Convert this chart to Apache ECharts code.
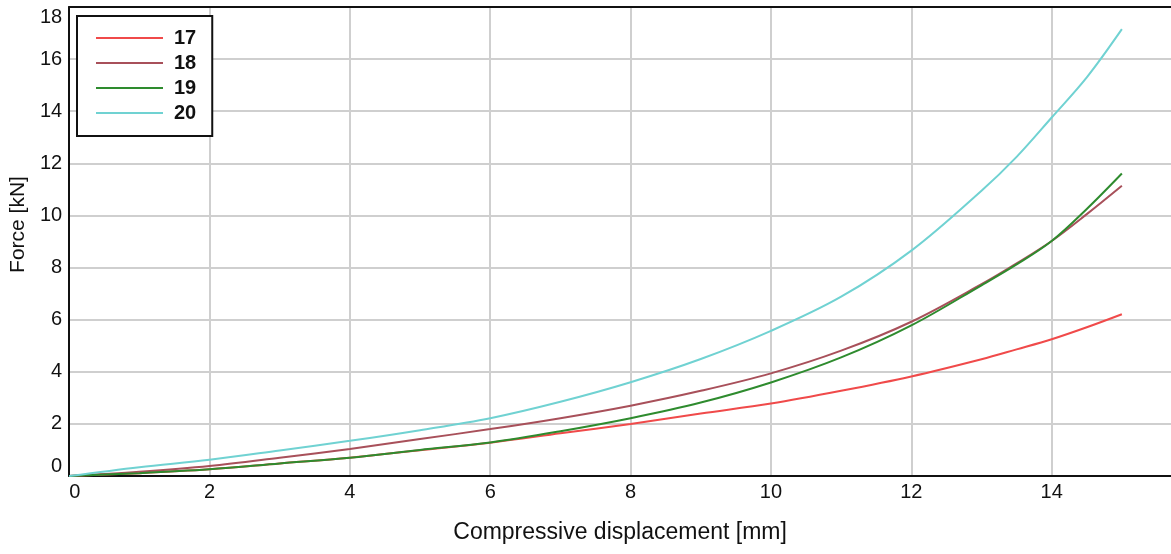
<!DOCTYPE html>
<html>
<head>
<meta charset="utf-8">
<title>Force vs displacement</title>
<script src="https://cdn.jsdelivr.net/npm/echarts@6/dist/echarts.min.js"></script>
<style>
  html, body { margin: 0; padding: 0; background: #fff; }
  #chart { width: 1171px; height: 554px; }
</style>
</head>
<body>
<div id="chart"></div>
<script>
// displacement [mm]
var disp = [0, 1, 2, 3, 4, 5, 6, 7, 8, 9, 10, 11, 12, 13, 13.5, 14, 14.5, 15];
// force [kN] per specimen
var s17 = [0, 0.11, 0.26, 0.48, 0.70, 0.99, 1.28, 1.64, 2.00, 2.40, 2.78, 3.27, 3.82, 4.48, 4.86, 5.25, 5.71, 6.21];
var s18 = [0, 0.16, 0.38, 0.70, 1.04, 1.42, 1.80, 2.22, 2.70, 3.27, 3.94, 4.81, 5.92, 7.36, 8.16, 9.02, 10.05, 11.14];
var s19 = [0, 0.11, 0.26, 0.48, 0.70, 1.00, 1.29, 1.72, 2.22, 2.82, 3.59, 4.55, 5.78, 7.32, 8.12, 9.02, 10.25, 11.61];
var s20 = [0, 0.34, 0.62, 0.98, 1.35, 1.76, 2.22, 2.85, 3.60, 4.49, 5.57, 6.88, 8.65, 10.95, 12.25, 13.76, 15.30, 17.15];

var names = ['17', '18', '19', '20'];
var colors = ['#f04a4a', '#a8505a', '#2e8b2e', '#70d2d2'];

function pairs(ys) {
  return disp.map(function (x, i) { return [x, ys[i]]; });
}

var chart = echarts.init(document.getElementById('chart'));
var font = 'Liberation Sans, Arial, sans-serif';
var xMax = 15.7;

chart.setOption({
  animation: false,
  grid: { left: 69, right: 0, top: 7, bottom: 78 },
  legend: {
    orient: 'vertical',
    left: 77, top: 16,
    backgroundColor: '#fff',
    borderColor: '#111', borderWidth: 2,
    padding: [12, 16, 13, 19],
    itemWidth: 67, itemHeight: 2, itemGap: 5,
    textStyle: { fontFamily: font, fontSize: 20, fontWeight: 'bold', color: '#111', padding: [0, 0, 0, 6], lineHeight: 20 },
    data: names.map(function (n) { return { name: n, icon: 'rect' }; })
  },
  xAxis: [{
    type: 'value',
    min: 0, max: xMax, interval: 2,
    name: 'Compressive displacement [mm]',
    nameLocation: 'middle', nameGap: 45,
    nameTextStyle: { fontFamily: font, fontSize: 23, color: '#111' },
    axisLine: { show: true, lineStyle: { color: '#111', width: 2 } },
    axisTick: { show: false },
    axisLabel: { fontFamily: font, fontSize: 20, color: '#111', margin: 6, showMaxLabel: false, alignMinLabel: 'left' },
    splitLine: { showMaxLine: false, lineStyle: { color: '#cfcfcf', width: 2 } }
  }, {
    // top frame line only
    type: 'value', position: 'top',
    min: 0, max: xMax, interval: 2,
    axisLine: { show: true, lineStyle: { color: '#111', width: 2 } },
    axisTick: { show: false },
    axisLabel: { show: false },
    splitLine: { show: false }
  }],
  yAxis: {
    type: 'value',
    min: 0, max: 18, interval: 2,
    name: 'Force [kN]',
    nameLocation: 'middle', nameGap: 37,
    nameTextStyle: { fontFamily: font, fontSize: 21, color: '#111', padding: [0, 0, 0, 34] },
    axisLine: { show: true, lineStyle: { color: '#111', width: 2 } },
    axisTick: { show: false },
    axisLabel: { fontFamily: font, fontSize: 20, color: '#111', margin: 7, verticalAlignMinLabel: 'bottom', verticalAlignMaxLabel: 'top' },
    splitLine: { lineStyle: { color: '#cfcfcf', width: 2 } }
  },
  series: [s17, s18, s19, s20].map(function (ys, i) {
    return {
      name: names[i],
      type: 'line',
      data: pairs(ys),
      smooth: 0.35,
      symbol: 'none',
      lineStyle: { color: colors[i], width: 2 },
      itemStyle: { color: colors[i] }
    };
  })
});
</script>
</body>
</html>
